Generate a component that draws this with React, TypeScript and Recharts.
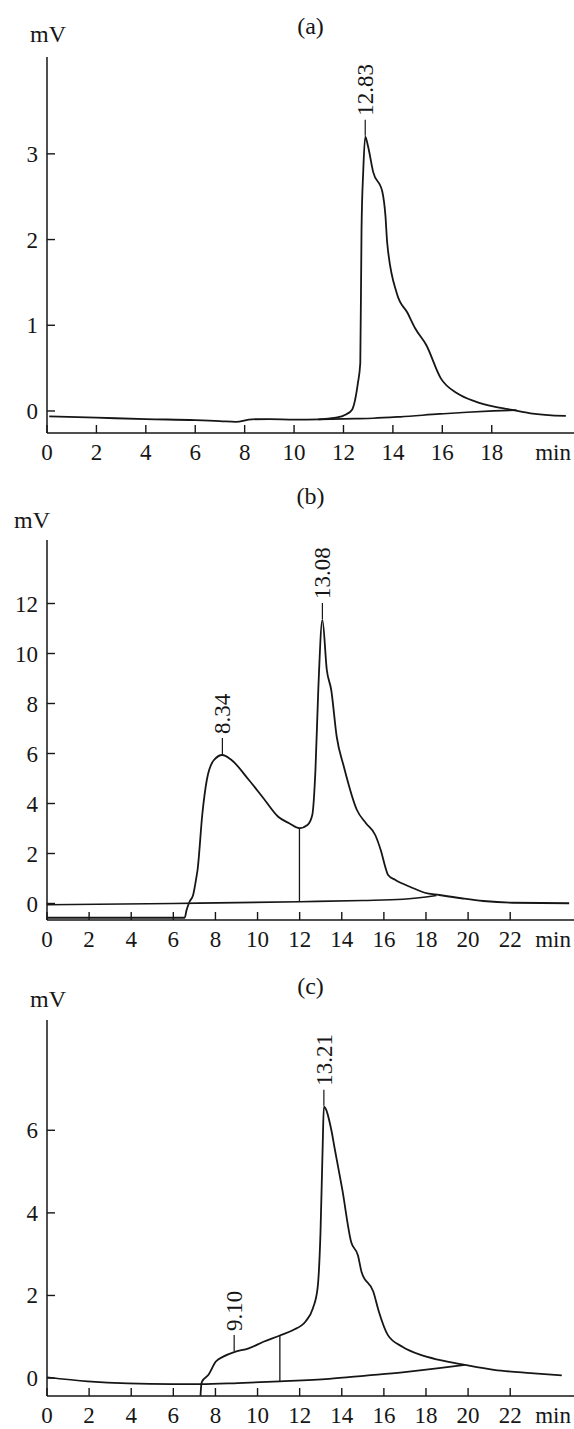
import React from "react";
import { ComposedChart, Line, XAxis, YAxis, ReferenceLine, ReferenceDot } from "recharts";

const FONT = '"Liberation Serif", "Times New Roman", serif';
const INK = "#161616";
const W = 574;

// ---- panel (a)
const aTimeTicks = [0, 2, 4, 6, 8, 10, 12, 14, 16, 18];
const aMvTicks = [0, 1, 2, 3];
const aSignal = [
  [0.09, -0.062], [2, -0.078], [4, -0.095], [6, -0.107], [7, -0.118], [7.64, -0.128],
  [8.3, -0.097], [9, -0.095], [10, -0.1], [11, -0.097], [11.7, -0.078], [12.1, -0.04],
  [12.34, 0.012], [12.58, 0.32], [12.68, 0.56], [12.73, 2.11], [12.8, 2.8], [12.88, 3.2],
  [13.0, 3.08], [13.2, 2.79], [13.57, 2.56], [13.7, 2.27], [13.77, 1.96], [14.16, 1.37],
  [14.6, 1.14], [14.9, 0.965], [15.35, 0.77], [15.94, 0.38], [16.6, 0.206], [17.35, 0.109],
  [18.1, 0.05], [18.83, 0.012], [19.57, -0.027], [21.0, -0.058],
];
const aBase = [
  [10.98, -0.097], [12.5, -0.09], [13.2, -0.085], [14.3, -0.068], [15.9, -0.035],
  [17, -0.015], [18.07, 0.0], [19.0, 0.01],
];
const aPeaks = [{ t: 12.88, v: 3.2, label: "12.83" }];
const aDrops: { t: number; lo: number; hi: number }[] = [];

// ---- panel (b)
const bTimeTicks = [0, 2, 4, 6, 8, 10, 12, 14, 16, 18, 20, 22];
const bMvTicks = [0, 2, 4, 6, 8, 10, 12];
const bSignal = [
  [0, -0.57], [6.54, -0.57], [6.63, -0.26], [6.77, 0.07], [6.94, 0.34], [7.1, 1.07],
  [7.15, 1.34], [7.38, 3.6], [7.59, 4.94], [7.93, 5.74], [8.33, 5.94], [8.72, 5.77],
  [9.59, 4.94], [10.28, 4.21], [10.98, 3.47], [11.5, 3.21], [11.99, 3.01], [12.37, 3.14],
  [12.6, 3.54], [12.75, 5.34], [12.89, 8.67], [13.08, 11.34], [13.29, 9.34], [13.5, 8.54],
  [13.76, 6.67], [14.1, 5.47], [14.72, 3.74], [15.15, 3.21], [15.59, 2.74], [15.85, 2.14],
  [16.11, 1.34], [16.2, 1.14], [16.55, 0.94], [17.24, 0.67], [17.94, 0.43], [18.63, 0.34],
  [19.68, 0.21], [20.72, 0.1], [22.11, 0.03], [24.8, 0.01],
];
const bBase = [
  [0, -0.05], [6, 0.0], [12, 0.07], [15, 0.12], [16.9, 0.17], [18.5, 0.32],
];
const bPeaks = [
  { t: 8.33, v: 5.94, label: "8.34" },
  { t: 13.08, v: 11.34, label: "13.08" },
];
const bDrops = [{ t: 11.99, lo: 0.07, hi: 3.01 }];

// ---- panel (c)
const cTimeTicks = [0, 2, 4, 6, 8, 10, 12, 14, 16, 18, 20, 22];
const cMvTicks = [0, 2, 4, 6];
const cSignal = [
  [7.29, -0.43], [7.33, -0.15], [7.37, -0.08], [7.67, 0.08], [8.02, 0.4], [8.37, 0.52],
  [8.89, 0.63], [9.58, 0.72], [10.28, 0.88], [11.06, 1.03], [11.67, 1.16], [12.28, 1.37],
  [12.63, 1.69], [12.85, 2.17], [12.99, 3.53], [13.09, 5.54], [13.15, 6.57], [13.5, 6.02],
  [13.67, 5.54], [14.02, 4.58], [14.45, 3.29], [14.77, 2.97], [14.94, 2.57], [15.5, 2.09],
  [15.76, 1.61], [16.19, 1.04], [16.88, 0.76], [17.75, 0.56], [18.62, 0.44], [19.84, 0.32],
  [21.23, 0.2], [22.97, 0.12], [24.45, 0.065],
];
const cBase = [
  [0, 0.02], [1.93, -0.08], [3.84, -0.13], [5.93, -0.145], [7.29, -0.145], [9.06, -0.12],
  [11.06, -0.08], [13.4, -0.02], [15.15, 0.06], [16.88, 0.14], [18.62, 0.24], [19.84, 0.32],
];
const cPeaks = [
  { t: 8.89, v: 0.63, label: "9.10" },
  { t: 13.15, v: 6.57, label: "13.21" },
];
const cDrops = [{ t: 11.06, lo: -0.08, hi: 1.03 }];

const toRows = (pts: number[][]) => pts.map(([t, v]) => ({ t, v }));

const LABEL_DROP = 27;

function XTick(props: any) {
  const { x, y, payload } = props;
  return (
    <g>
      <line x1={x} y1={y} x2={x} y2={y - 8} stroke={INK} strokeWidth={1.4} />
      <text x={x} y={y + LABEL_DROP} textAnchor="middle" fontSize={23} fontFamily={FONT} fill={INK}>
        {payload.value}
      </text>
    </g>
  );
}

function YTick(props: any) {
  const { x, y, payload } = props;
  return (
    <g>
      <line x1={x} y1={y} x2={x + 8} y2={y} stroke={INK} strokeWidth={1.4} />
      <text x={x - 9} y={y + 8} textAnchor="end" fontSize={23} fontFamily={FONT} fill={INK}>
        {payload.value}
      </text>
    </g>
  );
}

function PeakMark(props: any) {
  const { cx, cy, label } = props;
  const top = cy - 17;
  return (
    <g>
      <line x1={cx} y1={cy - 1} x2={cx} y2={top} stroke={INK} strokeWidth={1.2} />
      <text
        x={cx}
        y={top - 4}
        dy="0.34em"
        transform={`rotate(-90, ${cx}, ${top - 4})`}
        fontSize={23}
        fontFamily={FONT}
        fill={INK}
      >
        {label}
      </text>
    </g>
  );
}

interface PanelProps {
  top: number;
  height: number;
  plotTop: number;
  bottomPad: number;
  title: string;
  titleY: number;
  mvX: number;
  mvY: number;
  xMax: number;
  xTicks: number[];
  yDomain: [number, number];
  yTicks: number[];
  signal: number[][];
  base: number[][];
  peaks: { t: number; v: number; label: string }[];
  drops: { t: number; lo: number; hi: number }[];
}

function Panel(p: PanelProps) {
  return (
    <div style={{ position: "absolute", left: 0, top: p.top, width: W, height: p.height }}>
      <ComposedChart
        width={W}
        height={p.height}
        margin={{ top: p.plotTop, right: 0, bottom: p.bottomPad, left: 0 }}
        style={{ overflow: "visible" }}
      >
        <XAxis
          type="number"
          dataKey="t"
          domain={[0, p.xMax]}
          ticks={p.xTicks}
          interval={0}
          allowDataOverflow
          tickSize={0}
          tickMargin={0}
          height={30}
          tick={<XTick />}
          axisLine={{ stroke: INK, strokeWidth: 1.5 }}
          tickLine={false}
          label={{
            content: (lp: any) => {
              const vb = lp.viewBox || {};
              return (
                <text
                  x={vb.x + vb.width - 3}
                  y={vb.y + LABEL_DROP}
                  textAnchor="end"
                  fontSize={23}
                  fontFamily={FONT}
                  fill={INK}
                >
                  min
                </text>
              );
            },
          }}
        />
        <YAxis
          type="number"
          domain={p.yDomain}
          ticks={p.yTicks}
          interval={0}
          allowDataOverflow
          width={47}
          tickSize={0}
          tickMargin={0}
          tick={<YTick />}
          axisLine={{ stroke: INK, strokeWidth: 1.5 }}
          tickLine={false}
          label={{
            content: (lp: any) => {
              const vb = lp.viewBox || {};
              return (
                <g>
                  <text x={p.mvX} y={vb.y + p.mvY} fontSize={24} fontFamily={FONT} fill={INK}>
                    mV
                  </text>
                  <text
                    x={(vb.x + vb.width + W) / 2}
                    y={vb.y + p.titleY}
                    textAnchor="middle"
                    fontSize={24}
                    fontFamily={FONT}
                    fill={INK}
                  >
                    {p.title}
                  </text>
                </g>
              );
            },
          }}
        />
        <Line
          data={toRows(p.base)}
          dataKey="v"
          type="monotone"
          stroke={INK}
          strokeWidth={1.7}
          dot={false}
          activeDot={false}
          isAnimationActive={false}
        />
        <Line
          data={toRows(p.signal)}
          dataKey="v"
          type="monotone"
          stroke={INK}
          strokeWidth={1.8}
          dot={false}
          activeDot={false}
          isAnimationActive={false}
        />
        {p.drops.map((d, i) => (
          <ReferenceLine
            key={`d${i}`}
            segment={[
              { x: d.t, y: d.lo },
              { x: d.t, y: d.hi },
            ]}
            stroke={INK}
            strokeWidth={1.3}
          />
        ))}
        {p.peaks.map((pk, i) => (
          <ReferenceDot
            key={`p${i}`}
            x={pk.t}
            y={pk.v}
            r={1}
            ifOverflow="visible"
            shape={(sp: any) => <PeakMark cx={sp.cx} cy={sp.cy} label={pk.label} />}
          />
        ))}
      </ComposedChart>
    </div>
  );
}

export default function App() {
  return (
    <div
      style={{
        position: "absolute",
        left: 0,
        top: 0,
        width: W,
        height: 1429,
        background: "#fff",
        overflow: "hidden",
      }}
    >
      <Panel
        top={0}
        height={470}
        plotTop={57}
        bottomPad={7}
        title="(a)"
        titleY={-23}
        mvX={30}
        mvY={-15}
        xMax={21.33}
        xTicks={aTimeTicks}
        yDomain={[-0.257, 4.13]}
        yTicks={aMvTicks}
        signal={aSignal}
        base={aBase}
        peaks={aPeaks}
        drops={aDrops}
      />
      <Panel
        top={480}
        height={475}
        plotTop={60}
        bottomPad={5}
        title="(b)"
        titleY={-36}
        mvX={14}
        mvY={-12}
        xMax={25.03}
        xTicks={bTimeTicks}
        yDomain={[-0.66, 14.54]}
        yTicks={bMvTicks}
        signal={bSignal}
        base={bBase}
        peaks={bPeaks}
        drops={bDrops}
      />
      <Panel
        top={950}
        height={479}
        plotTop={70}
        bottomPad={3}
        title="(c)"
        titleY={-26}
        mvX={30}
        mvY={-13}
        xMax={25.03}
        xTicks={cTimeTicks}
        yDomain={[-0.434, 8.67]}
        yTicks={cMvTicks}
        signal={cSignal}
        base={cBase}
        peaks={cPeaks}
        drops={cDrops}
      />
    </div>
  );
}
